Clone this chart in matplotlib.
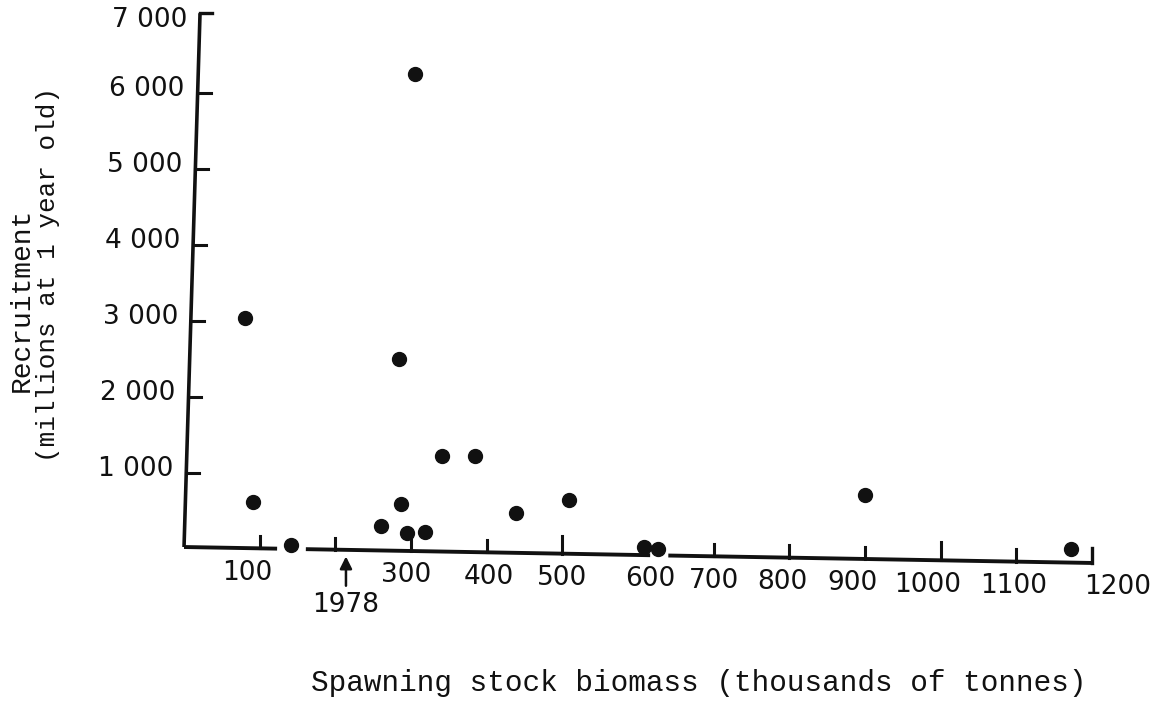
import numpy as np
import matplotlib
matplotlib.use('Agg')
from matplotlib import pyplot as plt

# spawning stock (thousands of tonnes) and recruits (millions at age 1)
ssb = [305, 81, 284, 341, 385, 91, 287, 509, 439, 260, 295, 318, 141, 608, 626, 900, 1172]
recruits = [6250, 3040, 2500, 1220, 1220, 620, 590, 645, 475, 300, 210, 225, 50, 20, 0, 710, 0]

y_ticks = [1000, 2000, 3000, 4000, 5000, 6000, 7000]
x_ticks = [100, 200, 300, 400, 500, 700, 800, 900, 1000, 1100]
x_long_ticks = [500, 1000]
x_tick_labels = [100, 300, 400, 500, 600, 700, 800, 900, 1000, 1100, 1200]
x_label_shift = [-17, -7, 3, 0, 16, 1, -9, -16, -17, -3, 34]
segments = [(0, 123), (161, 616), (640, 1200)]
arrow_year = 1978
arrow_x = 214

mono = 'Liberation Mono'
sans = 'DejaVu Sans'
ink = '#111111'


def base(x):
    # the hand-drawn baseline sags slightly to the right
    return 26 - 0.175 * np.asarray(x, dtype=float)


def yaxis_x(y):
    return 21 * np.asarray(y, dtype=float) / 7000


fig = plt.figure(figsize=(11.7, 7.12), dpi=100)
ax = fig.add_axes([0, 0, 1, 1])
ax.set_xlim(-243.2, 1303.0)
ax.set_ylim(-2145, 7224)
ax.axis('off')

# y axis with inward ticks and a cap at the top
ax.plot([0, yaxis_x(7050)], [base(0), 7050], color=ink, lw=2.6, solid_capstyle='butt')
ax.plot([yaxis_x(7050), yaxis_x(7050) + 16], [7050, 7050], color=ink, lw=2.4)
for t in y_ticks[:-1]:
    ax.plot([yaxis_x(t), yaxis_x(t) + 17], [t, t], color=ink, lw=2.2)
for t in y_ticks:
    dy = -40 if t == 7000 else 50
    ax.text(yaxis_x(t) - 17, t + dy, f'{t // 1000} 000', ha='right', va='center',
            family=sans, fontsize=19, color=ink)

# broken x axis
for a, b in segments:
    ax.plot([a, b], [base(a), base(b)], color=ink, lw=2.8, solid_capstyle='butt')
for t in x_ticks:
    h = 237 if t in x_long_ticks else 160
    ax.plot([t, t], [base(t), base(t) + h], color=ink, lw=2.2)
ax.plot([1200, 1200], [base(1200), base(1200) + 200], color=ink, lw=2.4)
for t, s in zip(x_tick_labels, x_label_shift):
    ax.text(t + s, base(t) - 320, str(t), ha='center', va='center',
            family=sans, fontsize=19, color=ink)

# arrow marking 1978
ax.annotate('', xy=(arrow_x, base(arrow_x) - 50), xytext=(arrow_x, -520),
            arrowprops=dict(arrowstyle='-|>', color=ink, lw=1.8, mutation_scale=18))
ax.text(arrow_x, -740, str(arrow_year), ha='center', va='center',
        family=sans, fontsize=19, color=ink)

ax.plot(ssb, recruits, 'o', color=ink, markersize=10)

ax.text(680, -1763, 'Spawning stock biomass (thousands of tonnes)', ha='center', va='center',
        family=mono, fontsize=21.2, color=ink)
ax.text(-214, 3276, 'Recruitment', rotation=90, ha='center', va='center',
        family=mono, fontsize=20.2, color=ink)
ax.text(-180, 3618, '(millions at 1 year old)', rotation=90, ha='center', va='center',
        family=mono, fontsize=18.7, color=ink)

fig.savefig('out.png', dpi=100)
